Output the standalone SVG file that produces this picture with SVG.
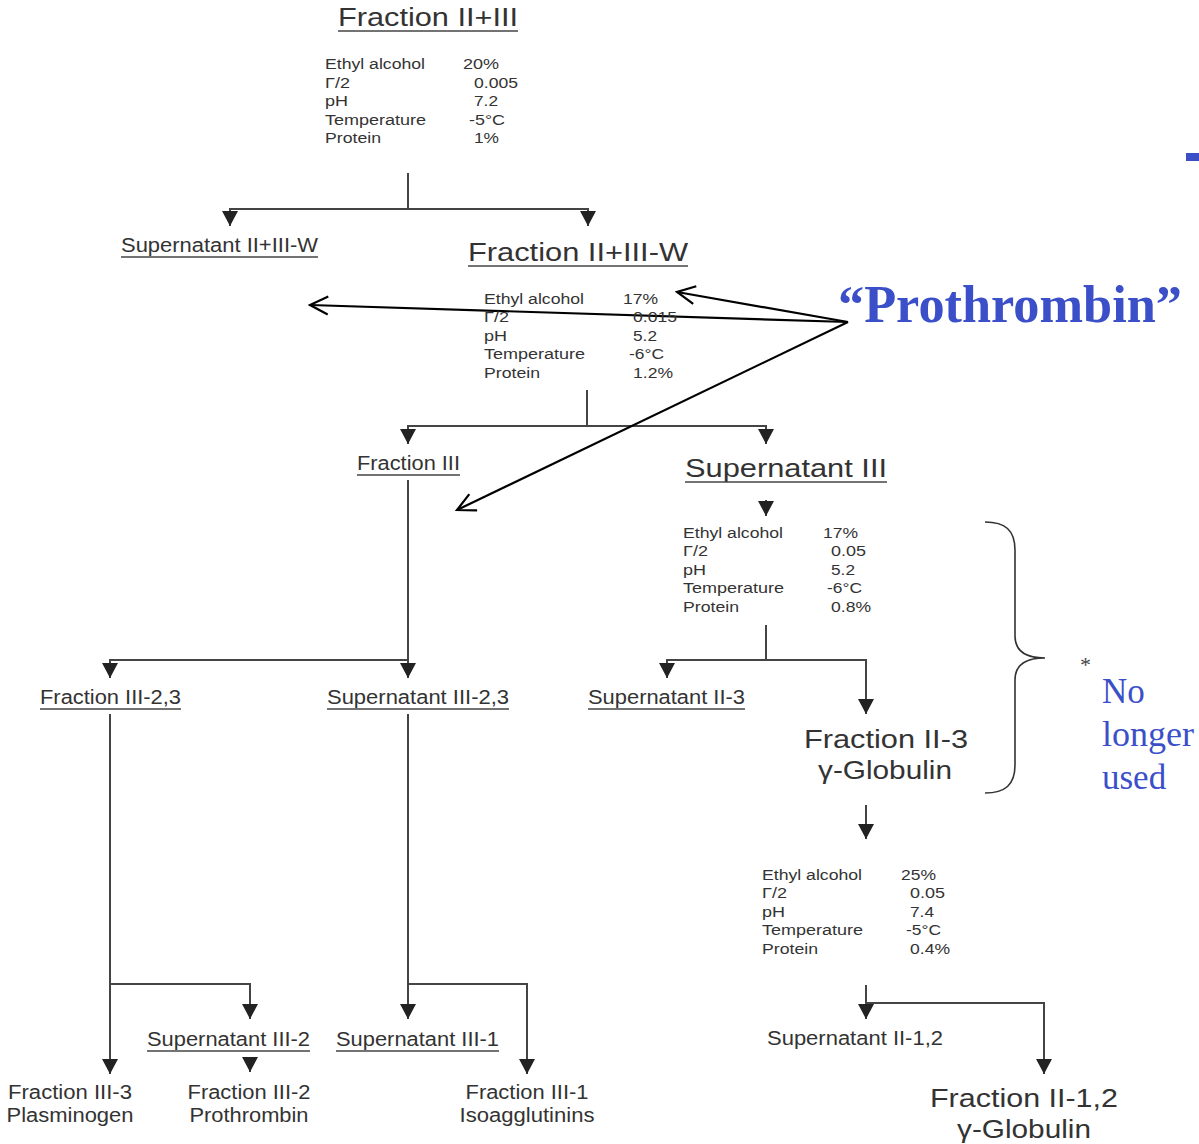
<svg xmlns="http://www.w3.org/2000/svg" width="1199" height="1144" viewBox="0 0 1199 1144">
<style>
.t{font-family:"Liberation Sans",Arial,sans-serif;fill:#333}
.s{font-size:15.5px}
.m{font-size:20px}
.l{font-size:26px}
.c{fill:none;stroke:#444;stroke-width:2}
.u{stroke:#444;stroke-width:1.6}
.p{fill:none;stroke:#000;stroke-width:2.2}
.b{font-family:"Liberation Serif","Times New Roman",serif;fill:#3b4fc8}
</style>
<defs>
<marker id="tri" markerUnits="userSpaceOnUse" viewBox="0 0 15 16" markerWidth="15" markerHeight="16" refX="15" refY="8" orient="auto">
<path d="M0,0 L15,8 L0,16 z" fill="#222"/>
</marker>
<marker id="open" markerUnits="userSpaceOnUse" viewBox="0 0 22 22" markerWidth="22" markerHeight="22" refX="20" refY="11" orient="auto">
<path d="M2,2 L20,11 L2,20" fill="none" stroke="#000" stroke-width="2.2"/>
</marker>
</defs>
<rect width="1199" height="1144" fill="#fff"/>

<g id="connectors">
<path class="c" d="M408,173 V209"/>
<path class="c" d="M408,209 H230 V226" marker-end="url(#tri)"/>
<path class="c" d="M408,209 H588 V226" marker-end="url(#tri)"/>
<path class="c" d="M587,390 V426"/>
<path class="c" d="M587,426 H408 V444" marker-end="url(#tri)"/>
<path class="c" d="M587,426 H766 V444" marker-end="url(#tri)"/>
<path class="c" d="M766,500 V516" marker-end="url(#tri)"/>
<path class="c" d="M766,625 V660"/>
<path class="c" d="M766,660 H667 V678" marker-end="url(#tri)"/>
<path class="c" d="M766,660 H866 V714" marker-end="url(#tri)"/>
<path class="c" d="M408,480 V678" marker-end="url(#tri)"/>
<path class="c" d="M408,660 H110 V678" marker-end="url(#tri)"/>
<path class="c" d="M110,714 V1074" marker-end="url(#tri)"/>
<path class="c" d="M110,984 H250 V1019" marker-end="url(#tri)"/>
<path class="c" d="M250,1057 V1072" marker-end="url(#tri)"/>
<path class="c" d="M408,714 V1019" marker-end="url(#tri)"/>
<path class="c" d="M408,984 H527 V1074" marker-end="url(#tri)"/>
<path class="c" d="M866,805 V839" marker-end="url(#tri)"/>
<path class="c" d="M866,985 V1019" marker-end="url(#tri)"/>
<path class="c" d="M866,1003 H1044 V1074" marker-end="url(#tri)"/>
<path class="p" d="M848,322 L677,292" marker-end="url(#open)"/>
<path class="p" d="M848,322 L310,305" marker-end="url(#open)"/>
<path class="p" d="M848,322 L457,510" marker-end="url(#open)"/>
<path d="M985,522 C1005,522 1015,530 1015,550 L1015,636 C1015,650 1025,658 1045,658 C1025,658 1015,666 1015,680 L1015,765 C1015,785 1005,793 985,793" fill="none" stroke="#333" stroke-width="1.6"/>
</g>

<g id="fraction-ii-iii">
<text class="t l" x="338" y="26" textLength="180" lengthAdjust="spacingAndGlyphs">Fraction II+III</text>
<line class="u" x1="338" y1="31" x2="518" y2="31"/>
</g>
<g id="params-1" class="t s">
<text x="325" y="69" textLength="100" lengthAdjust="spacingAndGlyphs">Ethyl alcohol</text>
<text x="325" y="87.5" textLength="25" lengthAdjust="spacingAndGlyphs">Γ/2</text>
<text x="325" y="106" textLength="23" lengthAdjust="spacingAndGlyphs">pH</text>
<text x="325" y="124.5" textLength="101" lengthAdjust="spacingAndGlyphs">Temperature</text>
<text x="325" y="143" textLength="56" lengthAdjust="spacingAndGlyphs">Protein</text>
<text x="463" y="69" textLength="36" lengthAdjust="spacingAndGlyphs">20%</text>
<text x="474" y="87.5" textLength="44" lengthAdjust="spacingAndGlyphs">0.005</text>
<text x="474" y="106" textLength="24" lengthAdjust="spacingAndGlyphs">7.2</text>
<text x="469" y="124.5" textLength="36" lengthAdjust="spacingAndGlyphs">-5°C</text>
<text x="474" y="143" textLength="25" lengthAdjust="spacingAndGlyphs">1%</text>
</g>

<g id="supernatant-ii-iii-w">
<text class="t m" x="121" y="252" textLength="197" lengthAdjust="spacingAndGlyphs">Supernatant II+III-W</text>
<line class="u" x1="121" y1="257" x2="318" y2="257"/>
</g>
<g id="fraction-ii-iii-w">
<text class="t l" x="468" y="261" textLength="220" lengthAdjust="spacingAndGlyphs">Fraction II+III-W</text>
<line class="u" x1="468" y1="266" x2="688" y2="266"/>
</g>
<g id="params-2" class="t s">
<text x="484" y="304" textLength="100" lengthAdjust="spacingAndGlyphs">Ethyl alcohol</text>
<text x="484" y="322" textLength="25" lengthAdjust="spacingAndGlyphs">Γ/2</text>
<text x="484" y="341" textLength="23" lengthAdjust="spacingAndGlyphs">pH</text>
<text x="484" y="359" textLength="101" lengthAdjust="spacingAndGlyphs">Temperature</text>
<text x="484" y="378" textLength="56" lengthAdjust="spacingAndGlyphs">Protein</text>
<text x="623" y="304" textLength="35" lengthAdjust="spacingAndGlyphs">17%</text>
<text x="633" y="322" textLength="44" lengthAdjust="spacingAndGlyphs">0.015</text>
<text x="633" y="341" textLength="24" lengthAdjust="spacingAndGlyphs">5.2</text>
<text x="629" y="359" textLength="35" lengthAdjust="spacingAndGlyphs">-6°C</text>
<text x="633" y="378" textLength="40" lengthAdjust="spacingAndGlyphs">1.2%</text>
</g>

<g id="prothrombin-label">
<text class="b" x="838" y="322" font-size="52" font-weight="bold" textLength="344" lengthAdjust="spacingAndGlyphs">“Prothrombin”</text>
<rect x="1186" y="153" width="13" height="8" fill="#3b4fc8"/>
</g>

<g id="fraction-iii">
<text class="t m" x="357" y="470" textLength="103" lengthAdjust="spacingAndGlyphs">Fraction III</text>
<line class="u" x1="357" y1="475" x2="460" y2="475"/>
</g>
<g id="supernatant-iii">
<text class="t l" x="685" y="477" textLength="202" lengthAdjust="spacingAndGlyphs">Supernatant III</text>
<line class="u" x1="685" y1="482" x2="887" y2="482"/>
</g>
<g id="params-3" class="t s">
<text x="683" y="538" textLength="100" lengthAdjust="spacingAndGlyphs">Ethyl alcohol</text>
<text x="683" y="556" textLength="25" lengthAdjust="spacingAndGlyphs">Γ/2</text>
<text x="683" y="575" textLength="23" lengthAdjust="spacingAndGlyphs">pH</text>
<text x="683" y="593" textLength="101" lengthAdjust="spacingAndGlyphs">Temperature</text>
<text x="683" y="612" textLength="56" lengthAdjust="spacingAndGlyphs">Protein</text>
<text x="823" y="538" textLength="35" lengthAdjust="spacingAndGlyphs">17%</text>
<text x="831" y="556" textLength="35" lengthAdjust="spacingAndGlyphs">0.05</text>
<text x="831" y="575" textLength="24" lengthAdjust="spacingAndGlyphs">5.2</text>
<text x="827" y="593" textLength="35" lengthAdjust="spacingAndGlyphs">-6°C</text>
<text x="831" y="612" textLength="40" lengthAdjust="spacingAndGlyphs">0.8%</text>
</g>

<g id="fraction-iii-2-3">
<text class="t m" x="40" y="704" textLength="141" lengthAdjust="spacingAndGlyphs">Fraction III-2,3</text>
<line class="u" x1="40" y1="709" x2="181" y2="709"/>
</g>
<g id="supernatant-iii-2-3">
<text class="t m" x="327" y="704" textLength="182" lengthAdjust="spacingAndGlyphs">Supernatant III-2,3</text>
<line class="u" x1="327" y1="709" x2="509" y2="709"/>
</g>
<g id="supernatant-ii-3">
<text class="t m" x="588" y="704" textLength="157" lengthAdjust="spacingAndGlyphs">Supernatant II-3</text>
<line class="u" x1="588" y1="709" x2="745" y2="709"/>
</g>
<g id="fraction-ii-3">
<text class="t l" x="804" y="748" textLength="164" lengthAdjust="spacingAndGlyphs">Fraction II-3</text>
<text class="t l" x="885" y="779" text-anchor="middle" textLength="134" lengthAdjust="spacingAndGlyphs">γ-Globulin</text>
</g>
<g id="no-longer-used">
<text x="1080" y="672" font-family="'Liberation Serif',serif" font-size="22" fill="#444">*</text>
<text class="b" x="1102" y="703" font-size="35">No</text>
<text class="b" x="1102" y="746" font-size="35" textLength="92" lengthAdjust="spacingAndGlyphs">longer</text>
<text class="b" x="1102" y="789" font-size="35">used</text>
</g>
<g id="params-4" class="t s">
<text x="762" y="880" textLength="100" lengthAdjust="spacingAndGlyphs">Ethyl alcohol</text>
<text x="762" y="898" textLength="25" lengthAdjust="spacingAndGlyphs">Γ/2</text>
<text x="762" y="917" textLength="23" lengthAdjust="spacingAndGlyphs">pH</text>
<text x="762" y="935" textLength="101" lengthAdjust="spacingAndGlyphs">Temperature</text>
<text x="762" y="954" textLength="56" lengthAdjust="spacingAndGlyphs">Protein</text>
<text x="901" y="880" textLength="35" lengthAdjust="spacingAndGlyphs">25%</text>
<text x="910" y="898" textLength="35" lengthAdjust="spacingAndGlyphs">0.05</text>
<text x="910" y="917" textLength="24" lengthAdjust="spacingAndGlyphs">7.4</text>
<text x="906" y="935" textLength="35" lengthAdjust="spacingAndGlyphs">-5°C</text>
<text x="910" y="954" textLength="40" lengthAdjust="spacingAndGlyphs">0.4%</text>
</g>

<g id="supernatant-iii-2">
<text class="t m" x="147" y="1046" textLength="163" lengthAdjust="spacingAndGlyphs">Supernatant III-2</text>
<line class="u" x1="147" y1="1051" x2="310" y2="1051"/>
</g>
<g id="supernatant-iii-1">
<text class="t m" x="336" y="1046" textLength="163" lengthAdjust="spacingAndGlyphs">Supernatant III-1</text>
<line class="u" x1="336" y1="1051" x2="499" y2="1051"/>
</g>
<g id="supernatant-ii-1-2">
<text class="t m" x="767" y="1045" textLength="176" lengthAdjust="spacingAndGlyphs">Supernatant II-1,2</text>
</g>
<g id="fraction-iii-3">
<text class="t m" x="70" y="1099" text-anchor="middle" textLength="124" lengthAdjust="spacingAndGlyphs">Fraction III-3</text>
<text class="t m" x="70" y="1122" text-anchor="middle" textLength="127" lengthAdjust="spacingAndGlyphs">Plasminogen</text>
</g>
<g id="fraction-iii-2">
<text class="t m" x="249" y="1099" text-anchor="middle" textLength="123" lengthAdjust="spacingAndGlyphs">Fraction III-2</text>
<text class="t m" x="249" y="1122" text-anchor="middle" textLength="119" lengthAdjust="spacingAndGlyphs">Prothrombin</text>
</g>
<g id="fraction-iii-1">
<text class="t m" x="527" y="1099" text-anchor="middle" textLength="123" lengthAdjust="spacingAndGlyphs">Fraction III-1</text>
<text class="t m" x="527" y="1122" text-anchor="middle" textLength="135" lengthAdjust="spacingAndGlyphs">Isoagglutinins</text>
</g>
<g id="fraction-ii-1-2">
<text class="t l" x="1024" y="1107" text-anchor="middle" textLength="188" lengthAdjust="spacingAndGlyphs">Fraction II-1,2</text>
<text class="t l" x="1024" y="1138" text-anchor="middle" textLength="134" lengthAdjust="spacingAndGlyphs">γ-Globulin</text>
</g>
</svg>
